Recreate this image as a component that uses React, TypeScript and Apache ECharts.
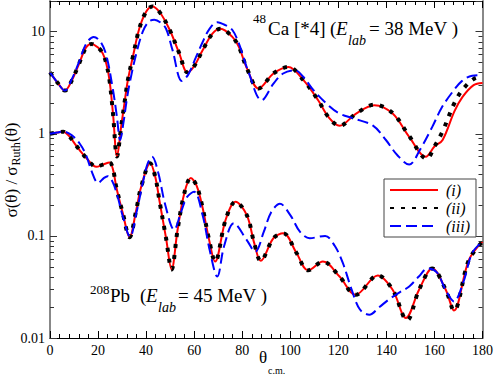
import React, { useEffect, useRef } from 'react';
import * as echarts from 'echarts';

// 48Ca (x4) curves: [theta_cm, sigma/sigma_Ruth]
const caModelI: [number, number][] = [
  [0, 4.0], [3, 3.2], [6.2, 2.65], [9, 3.3], [12, 4.8], [15, 7.0], [17.2, 7.6], [20, 7.0], [22, 6.1],
  [23.5, 4.8], [24.8, 3.3], [26.2, 1.6], [27.9, 0.6], [29.6, 1.17], [31, 2.0], [32.4, 3.35], [34.5, 5.7],
  [37.2, 10.8], [40, 15.7], [42.5, 17.7], [45.5, 15.7], [49.6, 10.7], [53.8, 6.15], [57.2, 4.0], [60, 4.6],
  [63.4, 6.5], [67.6, 9.6], [71, 10.7], [75.9, 8.9], [78.6, 7.1], [82, 4.35], [86.8, 2.78], [93, 3.9],
  [99.2, 4.52], [105.4, 3.37], [111.6, 2.13], [116, 1.45], [120.5, 1.2], [127.4, 1.58], [135, 1.91],
  [142.6, 1.58], [149.5, 0.935], [156.4, 0.596], [160, 0.75], [163.4, 0.87], [168.3, 1.66], [171.7, 2.3],
  [176.3, 3.0], [180, 3.15],
];
const caModelII: [number, number][] = [
  [0, 4.0], [3, 3.2], [6.2, 2.65], [9, 3.3], [12, 4.8], [15, 7.0], [17.2, 7.6], [20, 7.0], [22, 6.1],
  [23.5, 4.8], [24.8, 3.3], [26.2, 1.6], [27.9, 0.6], [29.6, 1.17], [31, 2.0], [32.4, 3.35], [34.5, 5.7],
  [37.2, 10.8], [40, 15.7], [42.5, 17.7], [45.5, 15.7], [49.6, 10.7], [53.8, 6.15], [57.2, 4.0], [60, 4.6],
  [63.4, 6.5], [67.6, 9.6], [71, 10.7], [75.9, 8.9], [78.6, 7.1], [82, 4.35], [86.8, 2.78], [93, 3.9],
  [99.2, 4.52], [105.4, 3.37], [111.6, 2.13], [116, 1.45], [120.5, 1.2], [127.4, 1.58], [135, 1.93],
  [142.6, 1.6], [149.5, 0.95], [156.8, 0.57], [160, 0.75], [163.4, 1.06], [168.3, 2.0], [171.7, 2.7],
  [176.3, 3.44], [180, 3.65],
];
const caModelIII: [number, number][] = [
  [0, 4.0], [3, 3.2], [6.2, 2.65], [9, 3.4], [12, 5.0], [15, 7.6], [18.2, 8.9], [21, 8.0], [23.5, 5.8],
  [26.2, 2.7], [27.8, 1.5], [29.2, 0.87], [30.6, 1.3], [32, 2.2], [33.4, 3.35], [35.9, 6.1], [38.6, 10.0],
  [41, 12.5], [43.4, 13.1], [46, 12.3], [48.3, 10.7], [51, 6.6], [54.9, 3.3], [57.5, 3.8], [60.7, 5.6],
  [63.4, 7.8], [66.2, 10.5], [69.6, 12.4], [73, 11.6], [75.9, 10.4], [78.6, 7.7], [82.5, 4.1], [88.1, 2.13],
  [93, 3.1], [97, 3.9], [101.9, 4.2], [105.5, 3.6], [109.5, 2.7], [116.4, 1.85], [120.5, 1.58], [126, 1.42],
  [134.3, 1.21], [139.8, 0.87], [144.5, 0.62], [149.5, 0.5], [154, 0.7], [159.1, 1.17], [163, 1.8],
  [167.4, 2.55], [171.5, 3.3], [175.7, 3.7], [180, 3.75],
];

// 208Pb curves
const pbModelI: [number, number][] = [
  [0, 1.0], [3, 1.03], [5.5, 1.05], [8, 0.95], [10, 0.82], [12.4, 0.69], [15.2, 0.577], [19.3, 0.475],
  [22, 0.5], [24.8, 0.525], [26.3, 0.44], [27.6, 0.3], [30.3, 0.167], [33.1, 0.097], [35.9, 0.18],
  [37.9, 0.3], [41.7, 0.514], [43.8, 0.38], [45.5, 0.225], [48.3, 0.095], [50.6, 0.047], [53.1, 0.115],
  [55.9, 0.262], [58.6, 0.37], [61, 0.31], [63.4, 0.194], [66.2, 0.092], [68.7, 0.056], [73.1, 0.144],
  [77.2, 0.216], [81.9, 0.16], [85, 0.085], [87.7, 0.057], [93, 0.095], [97.1, 0.106], [102.6, 0.068],
  [107.4, 0.046], [113.6, 0.056], [120.5, 0.04], [127.2, 0.0265], [136.4, 0.041], [142.6, 0.0297],
  [148.1, 0.0157], [153.6, 0.0297], [159.1, 0.048], [164.7, 0.0297], [168.1, 0.0186], [174.3, 0.058],
  [180, 0.088],
];
const pbModelII: [number, number][] = [
  [0, 1.0], [3, 1.03], [5.5, 1.05], [8, 0.95], [10, 0.82], [12.4, 0.69], [15.2, 0.577], [19.3, 0.475],
  [22, 0.5], [24.8, 0.525], [26.3, 0.44], [27.6, 0.3], [30.3, 0.167], [33.1, 0.097], [35.9, 0.18],
  [37.9, 0.3], [41.7, 0.514], [43.8, 0.38], [45.5, 0.225], [48.3, 0.095], [50.6, 0.047], [53.1, 0.115],
  [55.9, 0.262], [58.6, 0.37], [61, 0.31], [63.4, 0.194], [66.2, 0.092], [68.7, 0.056], [73.1, 0.144],
  [77.2, 0.216], [81.9, 0.16], [85, 0.085], [87.7, 0.057], [93, 0.095], [97.1, 0.106], [102.6, 0.068],
  [107.4, 0.046], [113.6, 0.056], [120.5, 0.04], [127.2, 0.0265], [136.4, 0.041], [142.6, 0.0297],
  [148.6, 0.0149], [153.6, 0.0297], [159.1, 0.048], [164.7, 0.0297], [168.1, 0.0186], [174.3, 0.058],
  [180, 0.088],
];
const pbModelIII: [number, number][] = [
  [0, 1.0], [3, 1.03], [5.5, 1.05], [9, 0.97], [12.4, 0.8], [15, 0.62], [17.5, 0.42], [20, 0.33],
  [22.5, 0.37], [24, 0.385], [26, 0.34], [28, 0.25], [30.5, 0.15], [33.3, 0.098], [36, 0.17], [38.5, 0.32],
  [40.5, 0.5], [42.5, 0.596], [45, 0.42], [48, 0.2], [51.7, 0.115], [54.5, 0.17], [57, 0.24], [60, 0.27],
  [63.5, 0.16], [66.5, 0.072], [69.6, 0.04], [72.5, 0.08], [76.5, 0.133], [81.9, 0.091], [85.4, 0.07],
  [89, 0.11], [92, 0.17], [95.7, 0.206], [100, 0.16], [104, 0.11], [108.1, 0.095], [114.5, 0.1],
  [118.5, 0.08], [121.9, 0.054], [125.5, 0.03], [129, 0.019], [132.9, 0.0169], [137, 0.02], [141.2, 0.024],
  [145.5, 0.028], [149.5, 0.032], [153.5, 0.04], [157.1, 0.048], [161, 0.044], [164.5, 0.03],
  [168.1, 0.0228], [172, 0.035], [175.7, 0.068], [180, 0.088],
];

const legendNames = ['(i)', '(ii)', '(iii)'];
const yTickLabels = [0.01, 0.1, 1, 10];
const yDecades = [0.01, 0.1, 1, 10];
const yMinorMultipliers = [2, 3, 4, 5, 6, 7, 8, 9];

const SERIF = 'Liberation Serif';

function txt(text: string, x: number, y: number, size: number, italic = false, rest: any = {}) {
  return {
    type: 'text',
    x,
    y,
    silent: true,
    style: {
      text,
      font: `${italic ? 'italic ' : ''}${size}px ${SERIF}`,
      fill: '#000',
      align: 'left',
      textAlign: 'left',
      verticalAlign: 'middle',
      textVerticalAlign: 'middle',
    },
    ...rest,
  };
}

export default function App() {
  const ref = useRef<HTMLDivElement>(null);
  useEffect(() => {
    if (!ref.current) return;
    const chart = echarts.init(ref.current, undefined, { renderer: 'svg' });
    const XMAX = 180;
    const minorVals: number[] = [];
    yDecades.forEach((d) => yMinorMultipliers.forEach((m) => { const v = +(m * d).toPrecision(6); if (v < 20) minorVals.push(v); }));

    const red = { color: '#ff0000', width: 2 };
    const black = { color: '#000000', width: 4, type: [4, 7], cap: 'butt' };
    const blue = { color: '#0000ff', width: 2, type: [11, 5] };
    const mk = (name: string, data: [number, number][], ls: any, z: number) => ({
      type: 'line', name, data, symbol: 'none', showSymbol: false, smooth: 0.35,
      lineStyle: ls, itemStyle: { color: ls.color }, z, silent: true, clip: true,
    });

    const xAxisBase = {
      type: 'value', min: 0, max: XMAX, interval: 20,
      axisTick: { show: true, inside: true, length: 7, lineStyle: { color: '#000', width: 1 } },
      minorTick: { show: true, splitNumber: 5, length: 4, lineStyle: { color: '#000', width: 1 } },
      splitLine: { show: false },
      axisLine: { show: true, onZero: false, lineStyle: { color: '#000', width: 1 } },
    };
    const yAxisBase = {
      type: 'log', logBase: 10, min: 0.01, max: 20,
      axisTick: { show: true, inside: true, length: 7, lineStyle: { color: '#333', width: 1 } },
      minorTick: { show: false },
      splitLine: { show: false },
      axisLine: { show: true, onZero: false, lineStyle: { color: '#888', width: 2 } },
    };

    chart.setOption({
      animation: false,
      textStyle: { fontFamily: SERIF },
      grid: { left: 50, right: 11, top: 1, bottom: 37, containLabel: false },
      xAxis: [
        {
          ...xAxisBase, position: 'bottom',
          axisLabel: { show: true, margin: 5, fontSize: 14, fontFamily: SERIF, color: '#000' },
        },
        { ...xAxisBase, position: 'top', axisLabel: { show: false } },
      ],
      yAxis: [
        {
          ...yAxisBase, position: 'left',
          axisLabel: {
            show: true, margin: 5, fontSize: 14, fontFamily: SERIF, color: '#000',
            formatter: (v: number) => {
              const r = +Number(v).toPrecision(6);
              return yTickLabels.some((t) => Math.abs(t - r) < 1e-9) ? String(r) : '';
            },
          },
        },
        { ...yAxisBase, position: 'right', axisLabel: { show: false } },
      ],
      legend: {
        data: legendNames,
        orient: 'vertical', left: 384, top: 179,
        itemWidth: 48, itemHeight: 14, itemGap: 2,
        padding: [3, 6, 3, 5],
        borderColor: '#444', borderWidth: 1, backgroundColor: '#fff',
        itemStyle: { opacity: 0 },
        textStyle: { fontFamily: SERIF, fontStyle: 'italic', fontSize: 16, color: '#000', padding: [0, 0, 0, 3] },
        selectedMode: false,
      },
      series: [
        mk('(i)', caModelI, red, 2),
        mk('(ii)', caModelII, black, 3),
        mk('(iii)', caModelIII, blue, 4),
        mk('(i)', pbModelI, red, 2),
        mk('(ii)', pbModelII, black, 3),
        mk('(iii)', pbModelIII, blue, 4),
        {
          type: 'custom', name: 'minor', silent: true, z: 5, clip: false,
          data: minorVals.map((v) => [0, v]),
          encode: { x: 0, y: 1 },
          renderItem: (params: any, api: any) => {
            const v = api.value(1);
            const pl = api.coord([0, v]);
            const pr = api.coord([XMAX, v]);
            const y = Math.round(pl[1]) + 0.5;
            return {
              type: 'group',
              children: [
                { type: 'line', shape: { x1: pl[0], y1: y, x2: pl[0] + 4, y2: y }, style: { stroke: '#333', lineWidth: 1 } },
                { type: 'line', shape: { x1: pr[0], y1: y, x2: pr[0] - 4, y2: y }, style: { stroke: '#333', lineWidth: 1 } },
              ],
            };
          },
        },
      ],
      graphic: [
        // 48Ca label
        txt('48', 253, 18, 13),
        txt('Ca', 268, 28, 19),
        txt('[*4]', 294, 28, 19),
        txt('(', 330, 28, 19),
        txt('E', 336, 28, 19, true),
        txt('lab', 348, 40, 14, true),
        txt('= 38 MeV )', 369, 28, 19),
        // 208Pb label
        txt('208', 90, 289, 13),
        txt('Pb', 110, 295, 19),
        txt('(', 140, 295, 19),
        txt('E', 146, 295, 19, true),
        txt('lab', 158, 307, 14, true),
        txt('= 45 MeV )', 178, 295, 19),
        // x axis name
        txt('θ', 259, 357, 17),
        txt('c.m.', 268, 370, 10),
        // y axis name (rotated)
        {
          type: 'group', x: 11, y: 170, rotation: Math.PI / 2, silent: true,
          children: [
            txt('σ(θ) / σ', -47.5, 0, 17),
            txt('Ruth', 4.5, 5, 12),
            txt('(θ)', 28, 0, 17),
          ],
        },
      ],
    });
    return () => chart.dispose();
  }, []);
  return <div ref={ref} style={{ position: 'fixed', left: 0, top: 0, width: 496, height: 375, background: '#fff' }} />;
}
